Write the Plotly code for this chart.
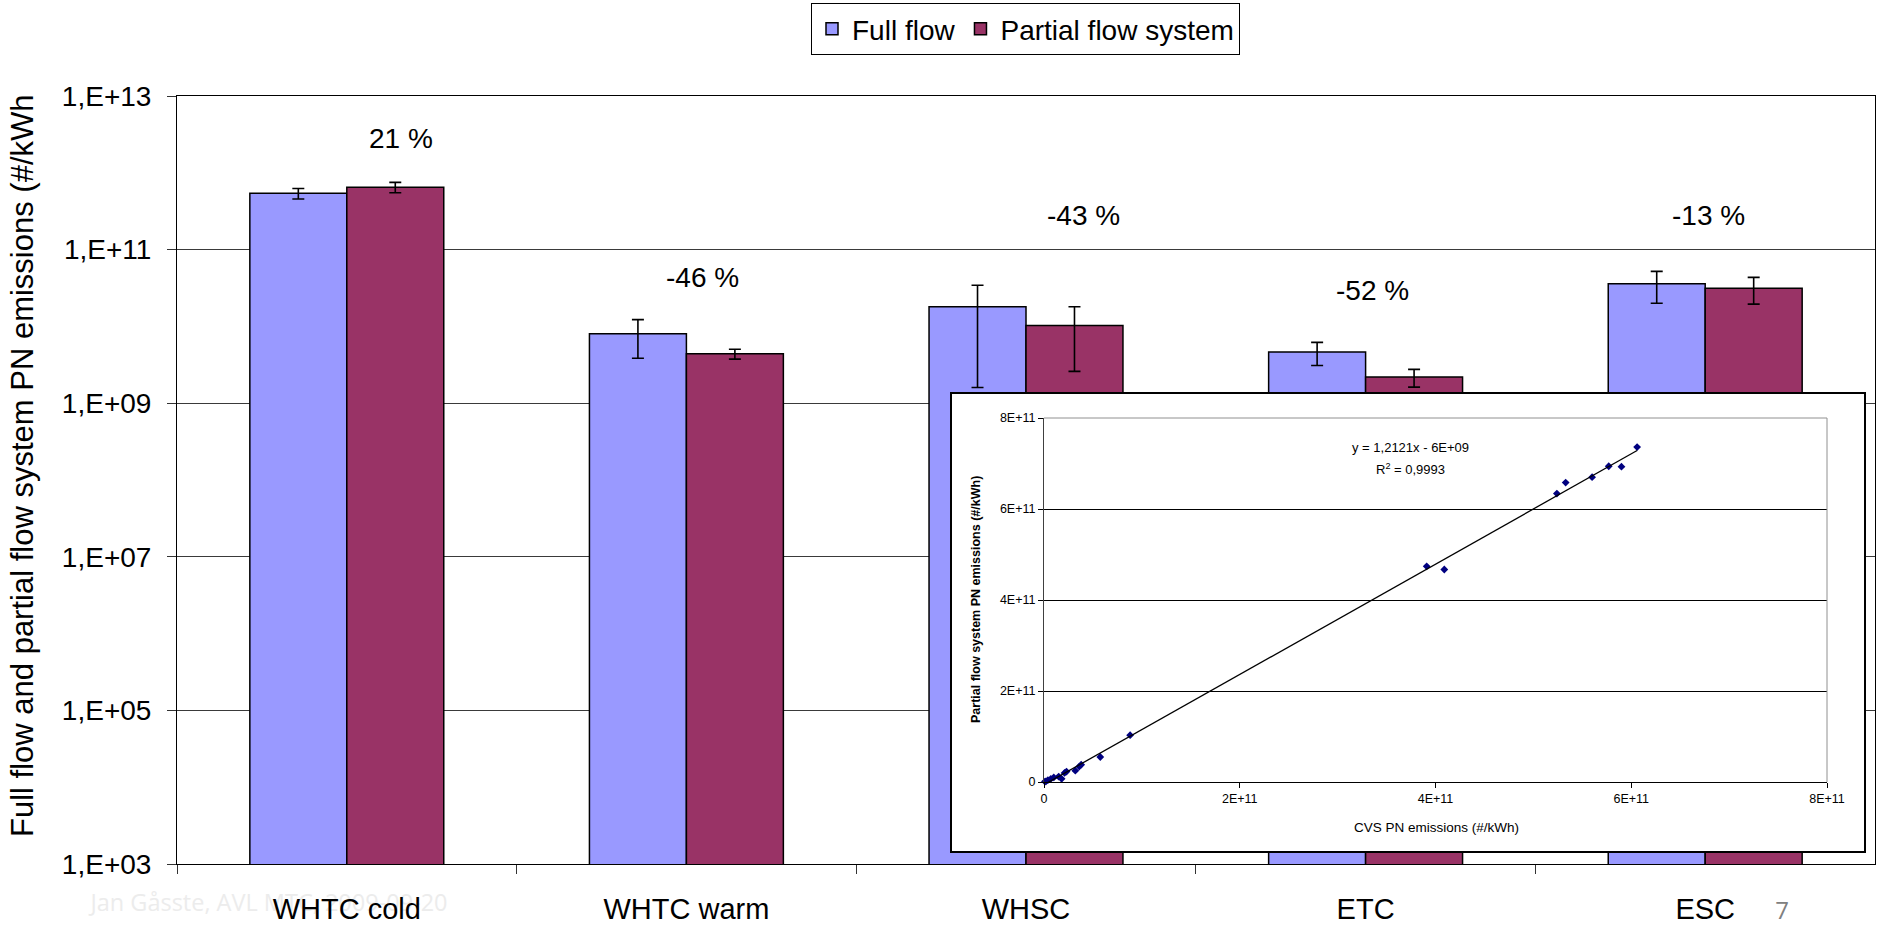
import plotly.graph_objects as go

W, H = 1879, 925

# ---------------- data ----------------
categories = ["WHTC cold", "WHTC warm", "WHSC", "ETC", "ESC"]
full_flow = [5.4e11, 8.05e9, 1.8e10, 4.64e9, 3.6e10]
full_flow_err = [0.85e11, 4.2e9, 1.64e10, 1.55e9, 1.6e10]
partial_flow = [6.5e11, 4.4e9, 1.03e10, 2.19e9, 3.15e10]
partial_flow_err = [1.0e11, 0.65e9, 7.7e9, 0.57e9, 1.2e10]
pct_labels = ["21 %", "-46 %", "-43 %", "-52 %", "-13 %"]

y_tickvals = [1e3, 1e5, 1e7, 1e9, 1e11, 1e13]
y_ticktext = ["1,E+03", "1,E+05", "1,E+07", "1,E+09", "1,E+11", "1,E+13"]

# inset scatter: CVS (full flow) vs partial flow system PN
cvs_pn = [6.06e11, 5.77e11, 5.90e11, 5.60e11, 5.33e11, 5.24e11, 3.91e11, 4.09e11,
          0.88e11, 0.575e11, 0.38e11, 0.36e11, 0.32e11, 0.23e11, 0.21e11, 0.18e11,
          0.15e11, 0.10e11, 0.07e11, 0.04e11, 0.02e11, 0.01e11]
pfs_pn = [7.36e11, 6.94e11, 6.93e11, 6.70e11, 6.58e11, 6.34e11, 4.74e11, 4.67e11,
          1.03e11, 0.55e11, 0.38e11, 0.34e11, 0.25e11, 0.23e11, 0.20e11, 0.07e11,
          0.12e11, 0.10e11, 0.07e11, 0.04e11, 0.015e11, 0.01e11]
fit_slope, fit_intercept = 1.2121, -6e9
inset_ticks = [0, 2e11, 4e11, 6e11, 8e11]
inset_ticktext = ["0", "2E+11", "4E+11", "6E+11", "8E+11"]

watermark = "Jan Gåsste, AVL MTC, 2009-09-20"
page_no = "7"

# ---------------- layout helpers (pixel -> paper) ----------------
def px(x):
    return x / W

def py(y):
    return 1 - y / H

FONT = "Liberation Sans, Arial, sans-serif"
BLUE = "#9999FF"
PLUM = "#993366"

main_x = [177, 1875]
main_y = [96, 864]
cover_x = [952, 1864]
cover_y = [394, 851]
inset_x = [1044, 1827]
inset_y = [418, 782]

fig = go.Figure()

# footer strip (watermark + page number) -- drawn first so it sits below everything
fig.add_trace(go.Scatter(
    x=[269, 1782], y=[20, 12], mode="text",
    text=[watermark, page_no],
    textfont=dict(family="Open Sans, sans-serif", size=[23.5, 24], color=["#ececec", "#808080"]),
    hoverinfo="skip", showlegend=False, xaxis="x", yaxis="y", cliponaxis=False))

# main bars
fig.add_trace(go.Bar(
    x=categories, y=full_flow, name="Full flow",
    marker=dict(color=BLUE, line=dict(color="black", width=1.5)),
    error_y=dict(type="data", array=full_flow_err, color="black", thickness=1.6, width=6),
    xaxis="x2", yaxis="y2"))
fig.add_trace(go.Bar(
    x=categories, y=partial_flow, name="Partial flow system",
    marker=dict(color=PLUM, line=dict(color="black", width=1.5)),
    error_y=dict(type="data", array=partial_flow_err, color="black", thickness=1.6, width=6),
    xaxis="x2", yaxis="y2"))

# cover subplot (white box with black frame for the inset)
fig.add_trace(go.Scatter(x=[0.5], y=[0.5], mode="markers", marker=dict(size=1, opacity=0),
                         xaxis="x3", yaxis="y3", showlegend=False, hoverinfo="skip"))

# inset scatter + trendline
fig.add_trace(go.Scatter(
    x=cvs_pn, y=pfs_pn, mode="markers",
    marker=dict(symbol="diamond", size=6, color="#000080"),
    showlegend=False, xaxis="x4", yaxis="y4", cliponaxis=False))
xfit = [min(cvs_pn), max(cvs_pn)]
yfit = [fit_slope * v + fit_intercept for v in xfit]
fig.add_trace(go.Scatter(
    x=xfit, y=yfit, mode="lines", line=dict(color="black", width=1.3),
    showlegend=False, xaxis="x4", yaxis="y4"))

hidden = dict(visible=False, showgrid=False, zeroline=False)

fig.update_layout(
    width=W, height=H,
    margin=dict(l=0, r=0, t=0, b=0, autoexpand=False),
    paper_bgcolor="white", plot_bgcolor="white",
    font=dict(family=FONT, color="black"),
    barmode="group", bargap=0.429, bargroupgap=0,
    showlegend=True,
    legend=dict(orientation="h", x=px(1025.5), xanchor="center", y=py(3), yanchor="top",
                bordercolor="black", borderwidth=1, bgcolor="white",
                font=dict(size=28, family=FONT), itemwidth=30, traceorder="normal"),
    # footer strip
    xaxis=dict(domain=[0, 1], range=[0, W], anchor="y", **hidden),
    yaxis=dict(domain=[0, 0.06], range=[0, 0.06 * H], anchor="x", **hidden),
    # main chart
    xaxis2=dict(domain=[px(main_x[0]), px(main_x[1])], anchor="y2", type="category",
                tickson="boundaries", ticks="outside", ticklen=9, tickcolor="#333",
                showline=True, linecolor="black", linewidth=1, mirror=True,
                showgrid=False, tickfont=dict(size=29), ticklabelstandoff=19),
    yaxis2=dict(domain=[py(main_y[1]), py(main_y[0])], anchor="x2", type="log",
                range=[3, 13], tickvals=y_tickvals, ticktext=y_ticktext,
                ticks="outside", ticklen=9, tickcolor="#333",
                showline=True, linecolor="black", linewidth=1, mirror=True,
                showgrid=True, gridcolor="#3a3a3a", gridwidth=1,
                tickfont=dict(size=28), ticklabelstandoff=10),
    # cover
    xaxis3=dict(domain=[px(cover_x[0]), px(cover_x[1])], anchor="y3", range=[0, 1],
                showline=True, linecolor="black", linewidth=2, mirror=True,
                showgrid=False, zeroline=False, showticklabels=False, ticks=""),
    yaxis3=dict(domain=[py(cover_y[1]), py(cover_y[0])], anchor="x3", range=[0, 1],
                showline=True, linecolor="black", linewidth=2, mirror=True,
                showgrid=False, zeroline=False, showticklabels=False, ticks=""),
    # inset
    xaxis4=dict(domain=[px(inset_x[0]), px(inset_x[1])], anchor="y4", range=[0, 8e11],
                tickvals=inset_ticks, ticktext=inset_ticktext, ticks="outside", ticklen=5,
                tickcolor="black", showline=True, linecolor="black", linewidth=1,
                showgrid=False, zeroline=False, tickfont=dict(size=12.5)),
    yaxis4=dict(domain=[py(inset_y[1]), py(inset_y[0])], anchor="x4", range=[0, 8e11],
                tickvals=inset_ticks, ticktext=inset_ticktext, ticks="outside", ticklen=5,
                tickcolor="black", showline=True, linecolor="#404040", linewidth=1,
                showgrid=True, gridcolor="black", gridwidth=1,
                zeroline=False, tickfont=dict(size=12.5)),
)

# gray top/right frame of the inset plot area
fig.add_shape(type="line", xref="x4 domain", yref="y4 domain", x0=0, x1=1, y0=1, y1=1,
              line=dict(color="#909090", width=1), layer="above")
fig.add_shape(type="line", xref="x4 domain", yref="y4 domain", x0=1, x1=1, y0=0, y1=1,
              line=dict(color="#909090", width=1), layer="above")

# percentage labels
pct_dx = [54, 16, 57, 7, 3]
pct_y = [138, 277, 215, 290, 215]
for cat, lab, dx, yy in zip(categories, pct_labels, pct_dx, pct_y):
    fig.add_annotation(x=cat, xref="x2", y=py(yy), yref="paper", text=lab, showarrow=False,
                       xshift=dx, font=dict(size=28, family=FONT), xanchor="center", yanchor="middle")

# main y-axis title
fig.add_annotation(x=px(23), y=py(466), xref="paper", yref="paper",
                   text="Full flow and partial flow system PN emissions (#/kWh",
                   textangle=-90, showarrow=False, font=dict(size=31, family=FONT),
                   xanchor="center", yanchor="middle")

# inset titles and fit text
fig.add_annotation(x=px(976), y=py(600), xref="paper", yref="paper",
                   text="<b>Partial flow system PN emissions (#/kWh)</b>",
                   textangle=-90, showarrow=False, font=dict(size=12.5, family=FONT),
                   xanchor="center", yanchor="middle")
fig.add_annotation(x=px(1436), y=py(827), xref="paper", yref="paper",
                   text="CVS PN emissions (#/kWh)", showarrow=False,
                   font=dict(size=13.5, family=FONT), xanchor="center", yanchor="middle")
fig.add_annotation(x=px(1410), y=py(448), xref="paper", yref="paper",
                   text="y = 1,2121x - 6E+09", showarrow=False,
                   font=dict(size=13, family=FONT), xanchor="center", yanchor="middle")
fig.add_annotation(x=px(1410), y=py(469), xref="paper", yref="paper",
                   text="R<sup>2</sup> = 0,9993", showarrow=False,
                   font=dict(size=13, family=FONT), xanchor="center", yanchor="middle")

fig.write_html(
    "out.html",
    config={"displayModeBar": False},
    post_script="document.body.style.margin='0';document.body.style.overflow='hidden';",
)
